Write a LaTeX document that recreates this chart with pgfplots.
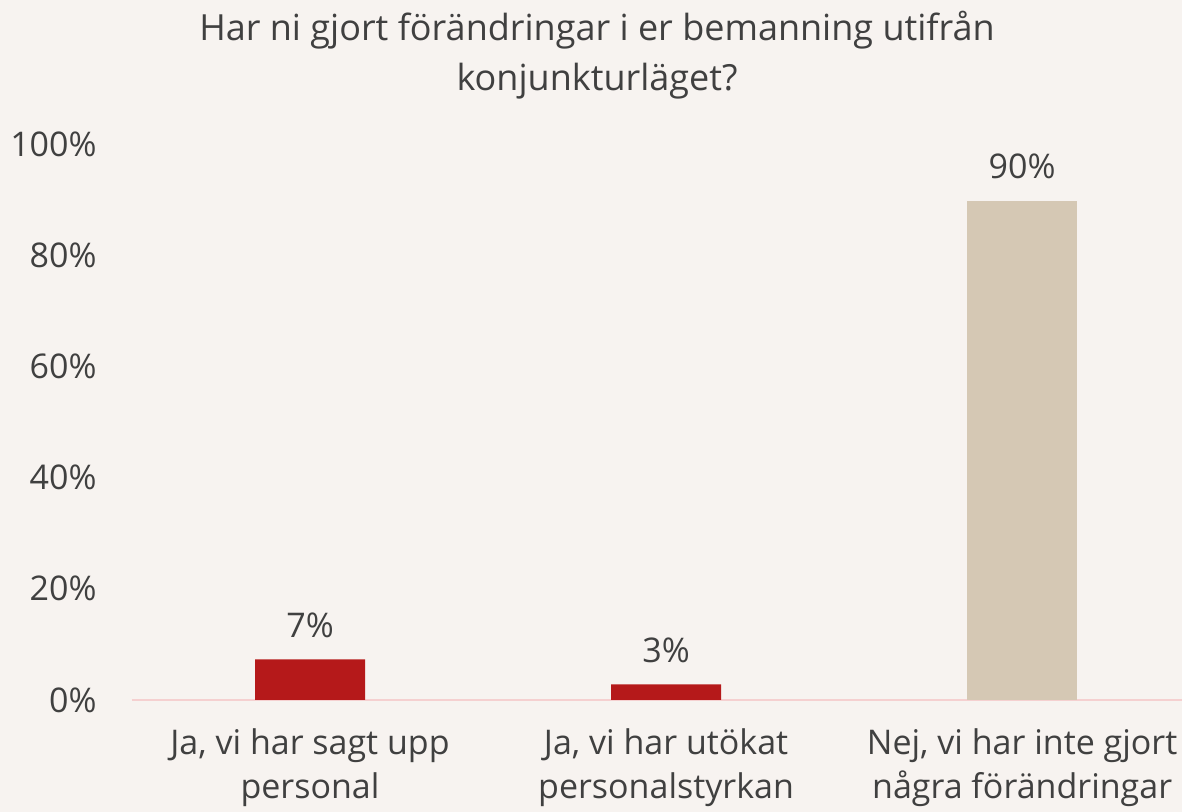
\documentclass[border=0pt]{standalone}
\usepackage{pgfplots}
\pgfplotsset{compat=1.18}
\usepackage{fontspec}
\setmainfont{Open Sans}
\definecolor{bg}{HTML}{F7F3F0}
\definecolor{barred}{HTML}{B5191A}
\definecolor{barbeige}{HTML}{D5C8B4}
\definecolor{axpink}{HTML}{F5D0D0}
\definecolor{txt}{HTML}{404040}
\begin{document}
\begin{tikzpicture}[x=0.5pt,y=0.5pt]
\fill[bg] (0,0) rectangle (1182,812);
\useasboundingbox (0,0) rectangle (1182,812);
\node[anchor=base,text=txt,font=\fontsize{18}{22}\selectfont,inner sep=0pt] at (597,812-41) {Har ni gjort förändringar i er bemanning utifrån};
\node[anchor=base,text=txt,font=\fontsize{18}{22}\selectfont,inner sep=0pt] at (597,812-91) {konjunkturläget?};
\begin{axis}[
  at={(66pt,56pt)}, anchor=south west,
  scale only axis, width=525pt, height=278pt,
  xmin=-0.5, xmax=2.449, ymin=0, ymax=100,
  axis x line*=bottom, axis y line*=left,
  x axis line style={draw=axpink, line width=1pt},
  y axis line style={draw=none},
  major tick length=0pt,
  ytick={0,20,40,60,80,100},
  yticklabels={0\%,20\%,40\%,60\%,80\%,100\%},
  yticklabel style={font=\fontsize{17}{20}\selectfont, text=txt, anchor=east, inner sep=0pt, xshift=-17.5pt},
  xtick={0,1,2},
  xticklabels={{Ja, vi har sagt upp\\personal},{Ja, vi har utökat\\personalstyrkan},{Nej, vi har inte gjort\\några förändringar}},
  xticklabel style={font=\fontsize{17}{22}\selectfont, text=txt, align=center, anchor=north, inner sep=0pt, yshift=-14pt},
  ybar, bar width=55pt,
  nodes near coords, point meta=explicit symbolic,
  every node near coord/.append style={font=\fontsize{17}{20}\selectfont, text=txt, anchor=base, inner sep=0pt, yshift=11pt},
  clip=false,
]
\addplot[fill=barred, draw=none, bar shift=0pt] coordinates {(0,7.3) [7\%] (1,2.8) [3\%]};
\addplot[fill=barbeige, draw=none, bar shift=0pt] coordinates {(2,89.8) [90\%]};
\end{axis}
\end{tikzpicture}
\end{document}
